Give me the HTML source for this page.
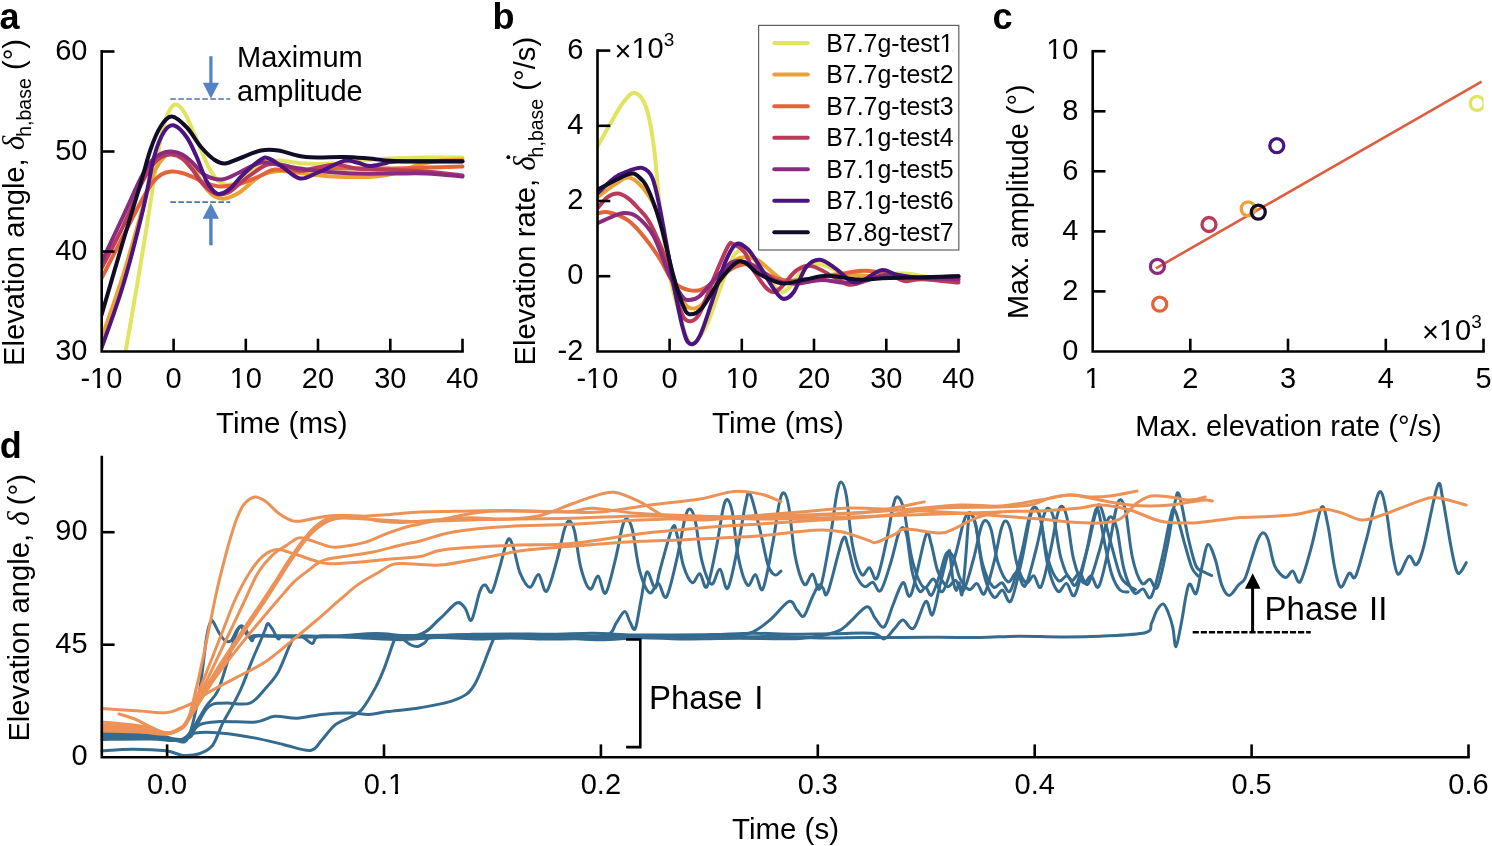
<!DOCTYPE html>
<html><head><meta charset="utf-8"><style>
html,body{margin:0;padding:0;background:#fff;}
svg{display:block;will-change:transform;}
text{font-family:"Liberation Sans",sans-serif;font-size:29px;fill:#000;}
text.t{font-size:29.5px;}
text.yl{font-size:29.2px;}
text.lg{font-size:24.9px;}
text.pl{font-weight:bold;font-size:36px;}
text.ph{font-size:33px;}
</style></head><body>
<svg width="1492" height="846" viewBox="0 0 1492 846">
<rect width="1492" height="846" fill="#fff"/>
<g>
<defs><clipPath id="ca"><rect x="101.7" y="40" width="363.8" height="311.5"/></clipPath>
<clipPath id="cb"><rect x="597.5" y="40" width="364.5" height="311.5"/></clipPath></defs>
<g clip-path="url(#ca)">
<path d="M124.9 355.5 C127.0 343.3 133.6 305.7 137.5 282.5 C141.4 259.3 144.7 239.2 148.3 216.5 C151.9 193.8 156.1 163.0 159.2 146.5 C162.2 130.0 163.7 124.5 166.4 117.5 C169.0 110.5 172.0 105.3 175.0 104.5 C178.1 103.7 180.8 106.7 184.4 112.5 C188.0 118.3 192.7 130.5 196.7 139.5 C200.7 148.5 204.5 159.5 208.3 166.5 C212.0 173.5 215.2 178.5 219.1 181.5 C223.0 184.5 226.9 185.5 231.4 184.5 C235.8 183.5 241.0 179.0 245.8 175.5 C250.6 172.0 254.8 166.0 260.3 163.5 C265.7 161.0 271.1 160.5 278.3 160.5 C285.5 160.5 294.6 163.0 303.6 163.5 C312.6 164.0 322.9 164.0 332.5 163.5 C342.1 163.0 351.7 161.3 361.4 160.5 C371.0 159.7 379.4 159.0 390.3 158.5 C401.1 158.0 414.3 157.7 426.4 157.5 C438.4 157.3 456.5 157.5 462.5 157.5" fill="none" stroke="#e1e45f" stroke-width="4.0" stroke-linecap="round" stroke-linejoin="round"/>
<path d="M101.4 338.5 C105.0 328.0 116.4 296.3 123.0 275.5 C129.7 254.7 136.3 229.8 141.1 213.5 C145.9 197.2 148.3 186.7 151.9 177.5 C155.5 168.3 159.0 162.7 162.8 158.5 C166.5 154.3 170.6 152.5 174.3 152.5 C178.1 152.5 181.7 155.3 185.2 158.5 C188.6 161.7 191.9 166.7 195.3 171.5 C198.6 176.3 202.1 183.3 205.4 187.5 C208.6 191.7 211.5 194.7 214.8 196.5 C218.0 198.3 220.8 199.2 224.9 198.5 C229.0 197.8 233.3 196.3 239.3 192.5 C245.3 188.7 254.2 179.1 261.0 175.5 C267.8 171.9 273.0 171.3 280.1 171.0 C287.2 170.7 294.9 172.6 303.6 173.5 C312.3 174.4 320.4 176.0 332.5 176.5 C344.5 177.0 365.0 177.2 375.8 176.5 C386.6 175.8 390.3 174.5 397.5 172.5 C404.7 170.5 411.9 166.5 419.1 164.5 C426.4 162.5 433.6 161.3 440.8 160.5 C448.0 159.7 458.9 159.7 462.5 159.5" fill="none" stroke="#eaa236" stroke-width="4.0" stroke-linecap="round" stroke-linejoin="round"/>
<path d="M101.4 278.5 C105.0 271.5 116.4 249.3 123.0 236.5 C129.7 223.7 136.3 210.3 141.1 201.5 C145.9 192.7 148.6 188.0 151.9 183.5 C155.3 179.0 158.1 176.5 161.3 174.5 C164.6 172.5 167.9 171.8 171.4 171.5 C174.9 171.2 178.5 172.0 182.3 173.0 C186.0 174.0 190.0 175.8 193.8 177.5 C197.7 179.2 201.0 181.5 205.4 183.0 C209.7 184.5 214.2 186.3 219.8 186.5 C225.5 186.7 232.5 185.8 239.3 184.0 C246.2 182.2 255.1 177.9 261.0 175.5 C266.9 173.1 268.2 170.2 274.7 169.5 C281.2 168.8 292.8 171.7 300.0 171.5 C307.2 171.3 309.0 169.0 318.0 168.5 C327.1 168.0 342.1 168.5 354.1 168.5 C366.2 168.5 378.2 168.7 390.3 168.5 C402.3 168.3 414.3 167.8 426.4 167.5 C438.4 167.2 456.5 166.7 462.5 166.5" fill="none" stroke="#e2643b" stroke-width="4.0" stroke-linecap="round" stroke-linejoin="round"/>
<path d="M101.4 268.5 C105.0 261.5 116.4 240.5 123.0 226.5 C129.7 212.5 136.3 194.7 141.1 184.5 C145.9 174.3 148.6 170.1 151.9 165.5 C155.3 160.9 158.1 158.8 161.3 157.0 C164.6 155.2 167.9 154.2 171.4 154.5 C174.9 154.7 178.8 156.0 182.3 158.5 C185.8 161.0 189.0 165.3 192.4 169.5 C195.7 173.7 198.6 179.5 202.5 183.5 C206.3 187.5 211.2 192.0 215.5 193.5 C219.8 195.0 223.4 195.0 228.5 192.5 C233.5 190.0 239.3 183.2 245.8 178.5 C252.3 173.8 260.9 166.7 267.5 164.5 C274.1 162.3 280.1 164.5 285.5 165.5 C291.0 166.5 294.6 170.2 300.0 170.5 C305.4 170.8 311.9 168.5 318.0 167.5 C324.2 166.5 330.4 164.3 336.8 164.5 C343.2 164.7 348.6 167.7 356.3 168.5 C364.0 169.3 371.4 169.0 383.0 169.5 C394.7 170.0 413.1 170.5 426.4 171.5 C439.6 172.5 456.5 174.8 462.5 175.5" fill="none" stroke="#ba3a5c" stroke-width="4.0" stroke-linecap="round" stroke-linejoin="round"/>
<path d="M101.4 262.5 C105.0 254.8 116.4 230.7 123.0 216.5 C129.7 202.3 136.3 186.8 141.1 177.5 C145.9 168.2 148.6 164.5 151.9 160.5 C155.3 156.5 158.1 155.0 161.3 153.5 C164.6 152.0 167.9 151.3 171.4 151.5 C174.9 151.7 178.8 152.7 182.3 154.5 C185.8 156.3 188.8 159.2 192.4 162.5 C196.0 165.8 199.1 171.7 203.9 174.5 C208.7 177.3 215.4 179.8 221.3 179.5 C227.2 179.2 232.7 175.3 239.3 172.5 C245.9 169.7 253.9 163.7 261.0 162.5 C268.1 161.3 275.4 164.5 281.9 165.5 C288.4 166.5 294.0 167.6 300.0 168.5 C306.0 169.4 308.7 170.2 318.0 171.0 C327.4 171.8 343.6 173.1 356.3 173.5 C369.1 173.9 382.9 173.5 394.6 173.5 C406.3 173.5 415.1 173.0 426.4 173.5 C437.7 174.0 456.5 176.0 462.5 176.5" fill="none" stroke="#8b2b7e" stroke-width="4.0" stroke-linecap="round" stroke-linejoin="round"/>
<path d="M101.4 348.5 C105.0 338.0 116.1 308.5 123.0 285.5 C130.0 262.5 137.6 232.0 142.8 210.5 C148.0 189.0 150.6 169.7 154.2 156.5 C157.7 143.3 160.9 136.7 164.2 131.5 C167.6 126.3 170.5 124.5 174.3 125.5 C178.1 126.5 183.2 132.2 186.9 137.5 C190.6 142.8 193.4 149.7 196.7 157.0 C200.0 164.3 203.5 175.4 206.8 181.5 C210.2 187.6 213.3 192.1 216.9 193.5 C220.5 194.9 224.3 193.0 228.5 190.0 C232.7 187.0 236.8 180.6 242.2 175.5 C247.6 170.4 256.5 162.3 261.0 159.5 C265.4 156.7 265.4 157.3 268.9 158.5 C272.4 159.7 276.8 163.2 281.9 166.5 C287.1 169.8 294.0 177.5 300.0 178.5 C306.0 179.5 310.7 175.4 318.0 172.5 C325.4 169.6 337.5 162.6 344.0 160.9 C350.5 159.2 352.8 161.6 357.0 162.5 C361.3 163.4 364.7 165.8 369.3 166.0 C373.9 166.2 379.8 164.3 384.5 163.5 C389.2 162.8 384.5 161.8 397.5 161.5 C410.5 161.2 451.6 161.5 462.5 161.5" fill="none" stroke="#4b1480" stroke-width="4.0" stroke-linecap="round" stroke-linejoin="round"/>
<path d="M101.4 315.5 C105.0 303.2 116.6 263.2 123.0 241.5 C129.5 219.8 135.4 200.8 140.0 185.5 C144.6 170.2 147.1 159.3 150.5 149.5 C153.9 139.7 157.0 132.0 160.6 126.5 C164.2 121.0 167.5 116.3 171.9 116.5 C176.2 116.7 182.0 122.4 186.9 127.5 C191.8 132.6 196.5 141.7 201.0 147.0 C205.6 152.3 210.1 156.7 214.0 159.5 C218.0 162.2 220.7 163.7 224.9 163.5 C229.1 163.3 233.3 160.7 239.3 158.5 C245.3 156.3 254.5 151.8 261.0 150.5 C267.5 149.2 270.9 149.4 278.3 150.5 C285.8 151.6 294.8 155.9 305.8 157.0 C316.7 158.1 333.4 156.7 344.0 157.0 C354.6 157.2 360.9 157.9 369.3 158.5 C377.7 159.2 379.1 160.4 394.6 160.9 C410.1 161.3 451.2 161.1 462.5 161.2" fill="none" stroke="#110d28" stroke-width="4.0" stroke-linecap="round" stroke-linejoin="round"/>
</g>
<path d="M170.3 99 H230.3" stroke="#4f74a8" stroke-width="1.6" stroke-dasharray="5.6 2.4"/>
<path d="M170.3 202.1 H230.3" stroke="#4f74a8" stroke-width="1.6" stroke-dasharray="5.6 2.4"/>
<path d="M210.9 56.2 V84" stroke="#5582c2" stroke-width="3.2"/>
<path d="M202.8 82.8 L219 82.8 L210.9 98.4 Z" fill="#5582c2"/>
<path d="M210.9 245.3 V217" stroke="#5582c2" stroke-width="3.4"/>
<path d="M202.6 218.7 L219 218.7 L210.8 203.2 Z" fill="#5582c2"/>
<text x="237" y="66.5">Maximum</text>
<text x="237" y="100.5">amplitude</text>
<path d="M101.7 51.2 V351.5 H462.5" fill="none" stroke="#000" stroke-width="2.6" stroke-linecap="square"/>
<path d="M101.7 51.5 H114.5" stroke="#000" stroke-width="2.6"/>
<text x="87.5" y="59.7" text-anchor="end">60</text>
<path d="M101.7 151.5 H114.5" stroke="#000" stroke-width="2.6"/>
<text x="87.5" y="159.7" text-anchor="end">50</text>
<path d="M101.7 251.5 H114.5" stroke="#000" stroke-width="2.6"/>
<text x="87.5" y="259.7" text-anchor="end">40</text>
<text x="87.5" y="359.7" text-anchor="end">30</text>
<text x="101.4" y="388.3" text-anchor="middle">-10</text>
<path d="M173.6 351.5 V338.7" stroke="#000" stroke-width="2.6"/>
<text x="173.6" y="388.3" text-anchor="middle">0</text>
<path d="M245.8 351.5 V338.7" stroke="#000" stroke-width="2.6"/>
<text x="245.8" y="388.3" text-anchor="middle">10</text>
<path d="M318.0 351.5 V338.7" stroke="#000" stroke-width="2.6"/>
<text x="318.0" y="388.3" text-anchor="middle">20</text>
<path d="M390.3 351.5 V338.7" stroke="#000" stroke-width="2.6"/>
<text x="390.3" y="388.3" text-anchor="middle">30</text>
<path d="M462.5 351.5 V338.7" stroke="#000" stroke-width="2.6"/>
<text x="462.5" y="388.3" text-anchor="middle">40</text>
<text x="281.8" y="432.9" text-anchor="middle" class="t">Time (ms)</text>
<text x="-0.5" y="29.4" class="pl">a</text>
<text transform="translate(23.6 366.0) rotate(-90)" class="yl">Elevation angle, <tspan font-family="Liberation Serif" font-style="italic" font-size="31">δ</tspan><tspan font-size="19.5" dx="-1" dy="7.8">h,base</tspan><tspan dy="-7.8" dx="0"> (°)</tspan></text>
</g>
<g clip-path="url(#cb)">
<path d="M597.4 146.5 C597.8 145.7 597.6 146.2 600.0 142.0 C602.4 137.8 608.0 127.7 611.8 121.3 C615.6 114.8 618.9 108.0 622.7 103.2 C626.4 98.5 630.4 92.2 634.2 92.7 C638.1 93.2 642.5 97.5 645.8 106.2 C649.0 115.0 651.3 128.0 653.7 145.4 C656.1 162.7 657.6 188.8 660.2 210.4 C662.9 232.0 666.4 257.8 669.6 275.1 C672.8 292.4 676.9 304.0 679.7 314.2 C682.5 324.4 684.0 331.3 686.2 336.4 C688.4 341.4 690.4 344.6 692.7 344.6 C695.0 344.6 697.3 340.3 699.9 336.4 C702.6 332.4 704.4 331.2 708.6 320.9 C712.8 310.7 720.6 286.4 725.2 275.1 C729.8 263.7 732.3 256.5 736.0 252.9 C739.8 249.3 742.7 249.8 747.6 253.3 C752.5 256.7 759.8 267.1 765.7 273.6 C771.6 280.0 776.5 292.8 783.0 292.0 C789.5 291.2 798.5 273.3 804.7 268.7 C810.8 264.0 814.6 263.9 819.8 264.2 C825.0 264.4 829.4 267.9 835.7 270.2 C842.0 272.5 850.2 277.4 857.4 278.1 C864.6 278.8 871.1 275.1 879.0 274.3 C887.0 273.6 896.6 273.1 905.0 273.6 C913.5 274.0 920.7 276.5 929.6 277.0 C938.5 277.4 953.7 276.3 958.5 276.2" fill="none" stroke="#e1e45f" stroke-width="4.0" stroke-linecap="round" stroke-linejoin="round"/>
<path d="M597.4 197.2 C600.4 195.0 610.0 187.3 615.4 184.1 C620.9 180.8 624.6 176.1 629.9 177.7 C635.2 179.3 642.2 186.5 647.2 193.5 C652.3 200.5 655.9 206.0 660.2 219.8 C664.5 233.6 669.5 262.9 673.2 276.2 C676.9 289.5 679.9 294.2 682.6 299.5 C685.3 304.8 686.1 307.0 689.4 307.8 C692.6 308.6 696.4 309.7 702.1 304.4 C707.8 299.1 718.0 283.7 723.8 276.2 C729.5 268.7 732.8 262.4 736.8 259.3 C740.7 256.1 744.0 257.2 747.6 257.4 C751.2 257.6 752.8 256.7 758.4 260.4 C764.1 264.1 775.2 275.9 781.5 279.6 C787.9 283.3 791.3 282.5 796.7 282.6 C802.1 282.7 807.5 281.3 814.0 280.0 C820.5 278.6 826.1 274.9 835.7 274.3 C845.3 273.7 859.8 275.6 871.8 276.2 C883.9 276.8 893.5 277.5 907.9 278.1 C922.4 278.7 950.1 279.6 958.5 280.0" fill="none" stroke="#eaa236" stroke-width="4.0" stroke-linecap="round" stroke-linejoin="round"/>
<path d="M597.4 213.4 C599.2 213.2 603.2 211.2 608.2 212.3 C613.3 213.4 621.8 216.2 627.7 220.2 C633.6 224.2 638.2 229.8 643.6 236.3 C649.0 242.9 655.3 251.7 660.2 259.3 C665.1 266.9 668.4 276.7 673.2 281.8 C678.0 287.0 684.3 288.9 689.1 290.1 C693.9 291.4 697.2 291.3 702.1 289.4 C707.0 287.4 713.3 282.2 718.7 278.5 C724.1 274.8 729.3 269.6 734.6 267.2 C739.9 264.8 745.3 263.1 750.5 264.2 C755.7 265.2 759.3 270.8 765.7 273.6 C772.0 276.3 778.4 280.3 788.8 280.7 C799.1 281.2 816.1 277.8 827.8 276.2 C839.4 274.6 850.9 271.7 858.8 270.9 C866.8 270.2 868.4 270.5 875.4 271.7 C882.4 272.9 890.5 277.0 900.7 278.1 C910.9 279.1 927.2 278.1 936.8 278.1 C946.4 278.1 954.9 278.1 958.5 278.1" fill="none" stroke="#e2643b" stroke-width="4.0" stroke-linecap="round" stroke-linejoin="round"/>
<path d="M597.4 208.5 C599.1 206.6 604.1 199.7 607.5 197.2 C610.9 194.7 614.2 193.4 617.6 193.5 C621.0 193.6 624.3 195.6 627.7 198.0 C631.1 200.4 634.1 203.6 637.8 207.8 C641.6 212.0 645.3 214.1 650.1 223.2 C654.9 232.3 661.8 248.2 666.7 262.3 C671.6 276.4 676.2 298.0 679.7 307.8 C683.2 317.6 684.4 319.9 687.7 320.9 C690.9 322.0 694.6 321.8 699.2 314.2 C703.8 306.5 710.3 286.4 715.1 275.1 C719.9 263.7 725.1 251.3 728.1 246.1 C731.1 241.0 730.4 243.2 733.2 244.2 C735.9 245.3 741.1 247.8 744.7 252.5 C748.3 257.2 750.0 265.9 754.8 272.4 C759.6 279.0 766.6 292.4 773.6 292.0 C780.6 291.6 790.2 274.4 796.7 270.2 C803.2 265.9 806.1 265.1 812.6 266.4 C819.1 267.7 829.3 275.0 835.7 278.1 C842.1 281.2 844.5 284.8 850.9 284.8 C857.3 284.8 867.6 279.8 874.0 278.1 C880.4 276.3 884.1 273.8 889.1 274.3 C894.2 274.8 898.8 280.3 904.3 281.1 C909.9 281.9 913.3 279.0 922.4 279.2 C931.4 279.5 952.5 282.0 958.5 282.6" fill="none" stroke="#ba3a5c" stroke-width="4.0" stroke-linecap="round" stroke-linejoin="round"/>
<path d="M597.4 223.2 C599.8 222.1 607.4 218.5 611.8 216.8 C616.3 215.1 619.9 213.0 624.1 213.0 C628.3 213.0 632.2 212.9 637.1 216.8 C642.0 220.7 648.3 226.6 653.7 236.3 C659.1 246.1 665.0 265.7 669.6 275.4 C674.2 285.2 678.1 290.9 681.2 295.0 C684.2 299.1 684.6 299.6 687.7 299.9 C690.7 300.1 694.6 300.1 699.2 296.5 C703.8 292.9 709.7 284.2 715.1 278.5 C720.5 272.8 726.8 265.0 731.7 262.3 C736.6 259.6 740.3 261.2 744.7 262.3 C749.2 263.4 753.5 265.7 758.4 268.7 C763.4 271.6 768.1 277.5 774.3 280.0 C780.6 282.5 788.2 283.7 796.0 283.7 C803.8 283.7 813.4 280.1 821.3 280.0 C829.1 279.8 835.7 282.6 842.9 282.6 C850.1 282.6 857.4 281.2 864.6 280.0 C871.8 278.8 876.6 275.8 886.3 275.4 C895.9 275.1 910.3 277.5 922.4 278.1 C934.4 278.7 952.5 279.0 958.5 279.2" fill="none" stroke="#8b2b7e" stroke-width="4.0" stroke-linecap="round" stroke-linejoin="round"/>
<path d="M597.4 193.5 C600.3 190.8 609.7 181.4 614.7 177.7 C619.8 174.0 623.1 172.9 627.7 171.3 C632.3 169.7 638.1 166.8 642.2 167.9 C646.2 169.0 649.3 170.7 652.3 177.7 C655.3 184.7 656.7 192.7 660.2 210.0 C663.7 227.4 669.5 262.3 673.2 281.8 C676.9 301.4 679.9 317.1 682.6 327.3 C685.3 337.6 686.6 341.9 689.4 343.5 C692.2 345.1 695.4 344.2 699.2 337.1 C703.0 330.0 707.9 313.5 712.2 301.0 C716.5 288.5 721.2 271.8 725.2 262.3 C729.2 252.8 732.3 246.4 736.0 244.2 C739.8 242.0 743.9 245.8 747.6 249.1 C751.3 252.4 754.1 257.6 758.4 264.2 C762.8 270.7 769.5 282.8 773.6 288.6 C777.7 294.4 779.6 298.2 783.0 298.8 C786.4 299.3 790.0 297.3 793.8 292.0 C797.7 286.7 801.8 272.6 806.1 267.2 C810.4 261.8 814.9 259.4 819.8 259.7 C824.8 259.9 830.5 265.1 835.7 268.7 C840.9 272.3 846.5 279.0 850.9 281.1 C855.2 283.2 856.6 282.9 861.7 281.1 C866.8 279.3 875.3 271.2 881.2 270.2 C887.1 269.1 890.6 273.4 897.1 274.7 C903.6 275.9 910.0 277.5 920.2 277.7 C930.4 278.0 952.1 276.5 958.5 276.2" fill="none" stroke="#4b1480" stroke-width="4.0" stroke-linecap="round" stroke-linejoin="round"/>
<path d="M597.4 189.7 C600.4 188.2 610.0 183.0 615.4 180.3 C620.9 177.7 626.3 174.7 629.9 173.9 C633.5 173.1 634.2 173.2 637.1 175.4 C640.0 177.7 643.4 179.5 647.2 187.5 C651.1 195.4 655.9 208.6 660.2 223.2 C664.5 237.8 669.5 261.5 673.2 275.1 C676.9 288.6 679.9 297.9 682.6 304.4 C685.3 310.9 686.1 313.6 689.4 314.2 C692.6 314.7 697.2 313.2 702.1 307.8 C707.0 302.4 713.3 289.2 718.7 281.8 C724.1 274.5 730.3 267.1 734.6 263.8 C738.9 260.5 740.7 260.7 744.7 262.3 C748.7 263.9 752.3 270.1 758.4 273.6 C764.6 277.1 773.8 282.3 781.5 283.3 C789.2 284.3 796.9 280.8 804.7 279.6 C812.4 278.3 818.7 275.8 827.8 275.8 C836.8 275.8 848.5 279.2 858.8 279.6 C869.2 280.0 873.3 278.6 889.9 278.1 C906.5 277.5 947.0 276.5 958.5 276.2" fill="none" stroke="#110d28" stroke-width="4.0" stroke-linecap="round" stroke-linejoin="round"/>
</g>
<path d="M597.5 50.6 V351.5 H958.5" fill="none" stroke="#000" stroke-width="2.6" stroke-linecap="square"/>
<path d="M597.5 50.6 H610.3" stroke="#000" stroke-width="2.6"/>
<text x="583.3" y="58.8" text-anchor="end">6</text>
<path d="M597.5 125.8 H610.3" stroke="#000" stroke-width="2.6"/>
<text x="583.3" y="134.0" text-anchor="end">4</text>
<path d="M597.5 201.0 H610.3" stroke="#000" stroke-width="2.6"/>
<text x="583.3" y="209.2" text-anchor="end">2</text>
<path d="M597.5 276.2 H610.3" stroke="#000" stroke-width="2.6"/>
<text x="583.3" y="284.4" text-anchor="end">0</text>
<text x="583.3" y="359.7" text-anchor="end">-2</text>
<text x="597.4" y="388.3" text-anchor="middle">-10</text>
<path d="M669.6 351.5 V338.7" stroke="#000" stroke-width="2.6"/>
<text x="669.6" y="388.3" text-anchor="middle">0</text>
<path d="M741.8 351.5 V338.7" stroke="#000" stroke-width="2.6"/>
<text x="741.8" y="388.3" text-anchor="middle">10</text>
<path d="M814.0 351.5 V338.7" stroke="#000" stroke-width="2.6"/>
<text x="814.0" y="388.3" text-anchor="middle">20</text>
<path d="M886.3 351.5 V338.7" stroke="#000" stroke-width="2.6"/>
<text x="886.3" y="388.3" text-anchor="middle">30</text>
<path d="M958.5 351.5 V338.7" stroke="#000" stroke-width="2.6"/>
<text x="958.5" y="388.3" text-anchor="middle">40</text>
<text x="777.9" y="432.9" text-anchor="middle" class="t">Time (ms)</text>
<text x="492.4" y="28.8" class="pl">b</text>
<text x="614.5" y="58"><tspan dy="3.2">×</tspan><tspan dy="-3.2">10</tspan><tspan font-size="19" dy="-12">3</tspan></text>
<text transform="translate(534.8 365.5) rotate(-90)" class="yl">Elevation rate, <tspan font-family="Liberation Serif" font-style="italic" font-size="31">δ</tspan><tspan font-size="19.5" dx="-1" dy="7.8">h,base</tspan><tspan dy="-7.8" dx="0"> (°/s)</tspan></text>
<circle cx="508.3" cy="157.2" r="1.9" fill="#000"/>
<rect x="758.6" y="25.4" width="200.2" height="224.6" fill="#fff" stroke="#606060" stroke-width="1.2"/>
<path d="M774.3 43.1 H807.8" stroke="#e1e45f" stroke-width="4.0" stroke-linecap="round"/>
<text x="826.2" y="51.5" class="lg">B7.7g-test1</text>
<path d="M774.3 74.6 H807.8" stroke="#eaa236" stroke-width="4.0" stroke-linecap="round"/>
<text x="826.2" y="83.0" class="lg">B7.7g-test2</text>
<path d="M774.3 106.2 H807.8" stroke="#e2643b" stroke-width="4.0" stroke-linecap="round"/>
<text x="826.2" y="114.6" class="lg">B7.7g-test3</text>
<path d="M774.3 137.7 H807.8" stroke="#ba3a5c" stroke-width="4.0" stroke-linecap="round"/>
<text x="826.2" y="146.1" class="lg">B7.1g-test4</text>
<path d="M774.3 169.2 H807.8" stroke="#8b2b7e" stroke-width="4.0" stroke-linecap="round"/>
<text x="826.2" y="177.6" class="lg">B7.1g-test5</text>
<path d="M774.3 200.8 H807.8" stroke="#4b1480" stroke-width="4.0" stroke-linecap="round"/>
<text x="826.2" y="209.2" class="lg">B7.1g-test6</text>
<path d="M774.3 232.3 H807.8" stroke="#110d28" stroke-width="4.0" stroke-linecap="round"/>
<text x="826.2" y="240.7" class="lg">B7.8g-test7</text>
<path d="M1092.7 51.2 V351.5 H1483.5" fill="none" stroke="#000" stroke-width="2.6" stroke-linecap="square"/>
<path d="M1092.7 51.2 H1105.5" stroke="#000" stroke-width="2.6"/>
<text x="1078.5" y="59.4" text-anchor="end">10</text>
<path d="M1092.7 111.3 H1105.5" stroke="#000" stroke-width="2.6"/>
<text x="1078.5" y="119.5" text-anchor="end">8</text>
<path d="M1092.7 171.3 H1105.5" stroke="#000" stroke-width="2.6"/>
<text x="1078.5" y="179.5" text-anchor="end">6</text>
<path d="M1092.7 231.4 H1105.5" stroke="#000" stroke-width="2.6"/>
<text x="1078.5" y="239.6" text-anchor="end">4</text>
<path d="M1092.7 291.4 H1105.5" stroke="#000" stroke-width="2.6"/>
<text x="1078.5" y="299.6" text-anchor="end">2</text>
<text x="1078.5" y="359.7" text-anchor="end">0</text>
<text x="1092.6" y="388.3" text-anchor="middle">1</text>
<path d="M1190.3 351.5 V338.7" stroke="#000" stroke-width="2.6"/>
<text x="1190.3" y="388.3" text-anchor="middle">2</text>
<path d="M1288.0 351.5 V338.7" stroke="#000" stroke-width="2.6"/>
<text x="1288.0" y="388.3" text-anchor="middle">3</text>
<path d="M1385.8 351.5 V338.7" stroke="#000" stroke-width="2.6"/>
<text x="1385.8" y="388.3" text-anchor="middle">4</text>
<path d="M1483.5 351.5 V338.7" stroke="#000" stroke-width="2.6"/>
<text x="1483.5" y="388.3" text-anchor="middle">5</text>
<defs><clipPath id="cc"><rect x="1094" y="40" width="389.6" height="311"/></clipPath></defs><g clip-path="url(#cc)">
<path d="M1156.0 268.3 L1481.6 81.6" stroke="#de5c40" stroke-width="2.6"/>
<circle cx="1477.2" cy="103.4" r="7.0" fill="none" stroke="#e1e45f" stroke-width="3.3"/>
<circle cx="1276.8" cy="145.7" r="7.0" fill="none" stroke="#4b1480" stroke-width="3.3"/>
<circle cx="1248.2" cy="208.8" r="7.0" fill="none" stroke="#eaa236" stroke-width="3.3"/>
<circle cx="1258.3" cy="212.1" r="7.0" fill="none" stroke="#110d28" stroke-width="3.3"/>
<circle cx="1209.0" cy="224.5" r="7.0" fill="none" stroke="#ba3a5c" stroke-width="3.3"/>
<circle cx="1157.4" cy="266.4" r="7.0" fill="none" stroke="#8b2b7e" stroke-width="3.3"/>
<circle cx="1159.7" cy="304.2" r="7.0" fill="none" stroke="#e2643b" stroke-width="3.3"/>
</g>
<text x="1422" y="339.6"><tspan dy="2.8">×</tspan><tspan dy="-2.8">10</tspan><tspan font-size="19" dy="-11.5">3</tspan></text>
<text x="1288.5" y="436" text-anchor="middle" class="t" style="font-size:29px">Max. elevation rate (°/s)</text>
<text transform="translate(1027.9 319.0) rotate(-90)" class="yl" style="font-size:28.9px">Max. amplitude (°)</text>
<text x="992.6" y="28.9" class="pl">c</text>
<g>
<path d="M102.0 739.5 C110.0 739.4 137.8 738.8 150.0 739.0 C162.2 739.2 168.7 740.7 175.0 740.5 C181.3 740.3 184.0 745.6 188.0 738.0 C192.0 730.4 195.8 711.3 198.9 694.6 C202.0 677.9 204.6 649.9 206.5 637.8 C208.4 625.7 209.4 624.7 210.5 622.0 C211.6 619.3 211.6 619.7 213.1 621.7 C214.6 623.7 217.6 630.8 219.7 634.0 C221.8 637.2 223.5 639.6 225.4 640.7 C227.3 641.8 229.2 642.4 231.1 640.7 C233.0 639.0 235.1 632.7 236.7 630.3 C238.3 627.9 239.1 626.2 240.5 626.5 C241.9 626.8 243.6 630.3 245.2 632.2 C246.8 634.1 248.2 637.2 250.0 637.8 C251.8 638.3 248.3 635.8 256.0 635.5 C263.7 635.2 282.7 635.9 296.0 636.0 C309.3 636.1 322.7 636.4 336.0 636.0 C349.3 635.6 362.3 633.8 376.0 633.6 C389.7 633.5 407.7 637.3 418.3 634.9 C428.9 632.5 433.2 624.3 439.6 619.0 C446.0 613.7 452.4 604.8 456.6 603.0 C460.8 601.2 462.5 605.2 465.0 608.0 C467.5 610.8 469.0 622.8 471.5 620.0 C474.0 617.2 477.7 596.8 480.0 591.0 C482.3 585.2 483.4 584.8 485.3 585.0 C487.2 585.2 489.4 594.5 491.7 592.0 C494.0 589.5 496.3 578.7 499.0 570.0 C501.7 561.3 505.3 543.8 507.7 540.0 C510.1 536.2 511.2 541.8 513.3 547.2 C515.3 552.7 517.3 566.2 520.0 572.9 C522.8 579.5 526.8 587.1 529.9 587.3 C533.0 587.6 535.8 573.9 538.5 574.5 C541.3 575.2 543.5 593.8 546.6 591.3 C549.7 588.9 554.1 570.1 557.1 559.7 C560.0 549.3 562.4 535.5 564.5 529.1 C566.5 522.6 567.7 520.6 569.4 521.0 C571.1 521.4 572.7 523.5 574.6 531.4 C576.5 539.2 578.3 558.4 580.9 568.0 C583.5 577.7 587.2 587.9 590.1 589.2 C592.9 590.5 595.5 575.3 598.1 576.0 C600.7 576.6 602.7 595.9 605.6 593.2 C608.4 590.5 612.5 570.7 615.3 559.8 C618.1 548.9 620.3 534.3 622.2 527.5 C624.1 520.7 625.1 518.6 626.8 519.0 C628.5 519.4 630.4 521.7 632.5 530.2 C634.6 538.7 636.6 559.4 639.4 569.8 C642.2 580.3 646.3 590.5 649.5 592.8 C652.6 595.0 655.5 582.6 658.3 583.3 C661.1 584.0 663.3 601.1 666.5 596.8 C669.6 592.4 674.2 570.2 677.2 557.3 C680.2 544.3 682.7 527.2 684.8 519.2 C686.9 511.1 688.1 508.8 689.8 509.0 C691.5 509.2 693.2 511.8 695.2 520.4 C697.2 529.1 699.1 550.2 701.9 560.8 C704.6 571.4 708.5 582.8 711.5 584.2 C714.5 585.6 717.2 568.7 720.0 569.3 C722.7 570.0 724.8 592.1 727.8 588.2 C730.8 584.3 735.1 559.7 738.0 545.8 C741.0 531.9 743.3 513.6 745.3 504.9 C747.3 496.3 747.6 489.8 750.1 494.0 C752.6 498.2 757.0 518.2 760.0 530.0 C763.0 541.8 765.5 557.5 768.0 565.0 C770.5 572.5 772.8 574.0 775.0 575.0 C777.2 576.0 780.0 571.7 781.0 571.0" fill="none" stroke="#356b8f" stroke-width="3.0" stroke-linecap="round" stroke-linejoin="round"/>
<path d="M102.0 737.5 C110.0 737.5 137.8 737.0 150.0 737.5 C162.2 738.0 169.0 740.6 175.0 740.5 C181.0 740.4 182.7 739.6 186.0 737.0 C189.3 734.4 191.6 730.2 195.0 725.0 C198.4 719.8 202.7 711.6 206.5 705.9 C210.3 700.2 214.3 698.0 217.8 690.8 C221.3 683.5 224.5 671.2 227.3 662.4 C230.1 653.6 232.6 643.9 234.8 637.8 C237.0 631.7 238.6 627.3 240.5 626.0 C242.4 624.7 244.1 627.5 246.0 630.0 C247.9 632.5 249.9 639.7 251.9 640.7 C253.9 641.7 250.3 636.6 258.0 636.0 C265.7 635.4 284.7 637.0 298.0 637.1 C311.3 637.2 324.7 636.7 338.0 636.8 C351.3 636.8 364.7 637.5 378.0 637.5 C391.3 637.6 404.7 637.0 418.0 636.9 C431.3 636.8 444.7 636.6 458.0 636.7 C471.3 636.8 484.7 637.2 498.0 637.5 C511.3 637.9 524.7 638.7 538.0 638.9 C551.3 639.1 566.4 639.2 578.0 638.6 C589.6 637.9 601.3 637.5 607.7 634.9 C614.1 632.3 613.4 627.1 616.2 623.2 C619.0 619.3 622.4 611.7 624.7 611.5 C627.0 611.3 628.2 619.2 630.0 622.0 C631.8 624.8 633.5 632.2 635.3 628.5 C637.1 624.8 639.1 609.4 641.0 600.0 C642.9 590.6 644.6 574.0 646.9 572.0 C649.2 570.0 652.8 588.3 655.0 588.0 C657.2 587.7 657.1 580.1 660.0 570.0 C662.9 559.9 669.5 533.3 672.4 527.6 C675.3 521.9 675.5 529.7 677.3 536.0 C679.2 542.4 680.9 558.0 683.4 565.8 C685.9 573.5 689.4 581.4 692.2 582.7 C694.9 584.1 697.4 573.1 699.8 573.8 C702.3 574.5 704.2 591.1 707.0 586.7 C709.7 582.3 713.7 560.3 716.3 547.5 C719.0 534.6 721.1 517.6 722.9 509.6 C724.7 501.6 725.7 499.0 727.3 499.5 C728.9 500.0 730.5 502.7 732.4 512.5 C734.2 522.3 736.0 546.3 738.6 558.4 C741.1 570.5 744.8 582.4 747.6 585.1 C750.4 587.8 752.9 573.9 755.5 574.6 C758.0 575.3 760.0 593.9 762.8 589.1 C765.6 584.3 769.6 560.0 772.3 545.8 C775.1 531.6 777.2 512.8 779.1 504.0 C781.0 495.2 782.0 492.4 783.6 492.8 C785.2 493.2 786.9 496.2 788.8 506.7 C790.7 517.2 792.5 542.8 795.1 555.7 C797.7 568.7 801.5 581.3 804.4 584.4 C807.3 587.4 809.9 573.3 812.5 574.0 C815.0 574.6 817.1 593.9 820.0 588.4 C822.8 582.8 827.0 556.2 829.8 540.5 C832.5 524.9 834.8 504.2 836.7 494.5 C838.6 484.8 839.7 481.8 841.3 482.1 C842.9 482.4 844.5 485.5 846.4 496.1 C848.2 506.7 850.0 532.5 852.6 545.5 C855.1 558.6 858.8 570.7 861.6 574.4 C864.4 578.1 866.9 567.0 869.5 567.7 C872.0 568.3 874.0 582.7 876.8 578.4 C879.6 574.1 883.6 553.7 886.3 541.7 C889.1 529.7 891.2 513.7 893.1 506.2 C895.0 498.8 895.8 496.1 897.6 496.8 C899.4 497.5 901.7 500.2 904.1 510.5 C906.5 520.9 908.7 546.2 912.0 559.0 C915.2 571.7 919.9 583.9 923.5 587.2 C927.1 590.6 930.3 578.3 933.5 579.0 C936.8 579.7 939.3 595.1 942.9 591.2 C946.5 587.3 951.6 567.4 955.1 555.8 C958.6 544.2 961.4 528.8 963.7 521.6 C966.1 514.4 967.6 512.1 969.5 512.5 C971.4 512.9 973.2 515.3 975.4 523.8 C977.5 532.3 979.6 553.1 982.5 563.6 C985.4 574.1 989.6 583.4 992.9 586.6 C996.1 589.8 999.1 582.0 1002.0 582.7 C1004.9 583.4 1007.2 595.6 1010.5 590.6 C1013.7 585.7 1018.4 565.4 1021.5 553.1 C1024.6 540.8 1027.1 524.5 1029.3 516.8 C1031.5 509.2 1032.6 506.9 1034.5 507.2 C1036.4 507.5 1038.2 509.9 1040.4 518.4 C1042.6 526.8 1044.7 547.4 1047.7 557.8 C1050.6 568.1 1054.9 577.6 1058.2 580.6 C1061.5 583.5 1064.5 574.9 1067.5 575.6 C1070.4 576.3 1072.7 588.9 1076.0 584.6 C1079.3 580.2 1084.0 560.9 1087.2 549.3 C1090.4 537.7 1092.9 522.4 1095.1 515.2 C1097.3 508.1 1097.9 502.1 1100.4 506.2 C1102.9 510.3 1106.7 528.5 1110.0 540.0 C1113.3 551.5 1117.0 567.5 1120.0 575.0 C1123.0 582.5 1125.4 582.5 1128.0 585.0 C1130.6 587.5 1134.2 588.9 1135.4 589.7" fill="none" stroke="#356b8f" stroke-width="3.0" stroke-linecap="round" stroke-linejoin="round"/>
<path d="M102.0 750.8 C107.2 750.5 122.3 749.2 133.0 749.2 C143.7 749.2 157.9 749.8 166.2 750.8 C174.5 751.8 177.3 754.9 182.8 755.4 C188.3 755.9 194.5 755.2 199.3 753.7 C204.1 752.2 208.5 750.0 211.8 746.3 C215.1 742.6 217.3 735.3 219.2 731.4 C221.0 727.5 220.7 727.1 222.9 722.9 C225.1 718.6 229.2 711.9 232.4 705.9 C235.6 699.9 238.7 694.2 241.8 687.0 C245.0 679.8 248.4 669.6 251.3 662.4 C254.2 655.1 257.1 648.9 259.4 643.5 C261.7 638.1 263.6 633.3 265.0 630.0 C266.4 626.7 266.6 623.6 267.9 623.6 C269.2 623.6 271.3 627.5 273.0 630.0 C274.7 632.5 276.3 637.8 278.3 638.8 C280.3 639.8 277.2 636.4 285.0 636.0 C292.8 635.6 311.7 636.5 325.0 636.6 C338.3 636.7 351.7 636.8 365.0 636.6 C378.3 636.5 391.7 636.0 405.0 635.8 C418.3 635.5 431.7 635.4 445.0 635.2 C458.3 635.0 471.7 634.3 485.0 634.5 C498.3 634.7 511.7 636.0 525.0 636.2 C538.3 636.4 551.7 635.7 565.0 635.7 C578.3 635.8 591.7 636.5 605.0 636.5 C618.3 636.4 631.7 635.5 645.0 635.5 C658.3 635.5 671.7 636.5 685.0 636.5 C698.3 636.5 714.2 635.8 725.0 635.2 C735.8 634.6 742.5 635.5 750.0 633.0 C757.5 630.5 763.5 625.3 770.0 620.0 C776.5 614.7 784.5 603.1 789.0 601.4 C793.5 599.7 794.5 607.5 797.0 610.0 C799.5 612.5 801.3 618.1 803.8 616.1 C806.3 614.1 809.5 603.1 812.0 598.0 C814.5 592.9 816.7 587.0 818.5 585.3 C820.3 583.6 821.4 586.9 823.0 588.0 C824.6 589.1 824.6 600.0 827.9 592.0 C831.2 584.0 839.2 547.2 842.6 539.7 C846.0 532.2 846.0 541.5 848.0 546.9 C850.0 552.3 852.0 565.6 854.7 572.2 C857.4 578.8 861.3 584.9 864.3 586.5 C867.4 588.2 870.1 581.7 872.8 582.3 C875.5 583.0 877.6 593.9 880.7 590.5 C883.7 587.2 888.0 571.5 890.9 562.2 C893.8 552.9 896.2 540.6 898.2 534.8 C900.2 529.0 901.5 527.2 903.0 527.6 C904.5 528.0 905.6 530.0 907.1 537.3 C908.6 544.6 910.1 562.5 912.1 571.5 C914.1 580.4 917.1 588.4 919.4 591.1 C921.7 593.8 923.7 586.9 925.8 587.5 C927.8 588.2 929.4 597.1 931.7 595.1 C933.9 593.1 937.2 582.1 939.4 575.7 C941.6 569.3 943.3 560.8 944.9 556.8 C946.4 552.9 947.0 551.8 948.5 552.0 C950.0 552.2 951.7 553.4 953.6 557.8 C955.6 562.1 957.4 572.9 959.9 578.2 C962.5 583.5 966.2 588.6 969.1 589.5 C972.0 590.4 974.5 582.9 977.1 583.6 C979.7 584.2 981.7 597.3 984.5 593.5 C987.4 589.7 991.5 571.6 994.3 560.9 C997.0 550.2 999.2 536.1 1001.1 529.4 C1003.0 522.8 1004.1 520.9 1005.7 521.1 C1007.3 521.3 1008.9 523.4 1010.7 530.5 C1012.6 537.6 1014.4 555.0 1016.9 563.7 C1019.4 572.5 1023.1 580.8 1025.9 582.8 C1028.7 584.8 1031.2 575.1 1033.7 575.8 C1036.2 576.4 1038.2 591.0 1041.0 586.8 C1043.8 582.6 1047.8 562.4 1050.5 550.5 C1053.2 538.7 1055.4 522.9 1057.2 515.5 C1059.1 508.1 1060.1 505.8 1061.7 506.2 C1063.3 506.6 1065.0 509.0 1067.0 517.8 C1069.0 526.6 1070.8 548.0 1073.5 558.8 C1076.1 569.6 1080.0 579.6 1082.9 582.5 C1085.8 585.4 1088.5 575.4 1091.2 576.1 C1093.8 576.7 1095.9 591.3 1098.8 586.5 C1101.8 581.8 1106.0 560.3 1108.8 547.5 C1111.7 534.7 1113.9 517.8 1115.9 509.8 C1117.9 501.9 1118.9 499.4 1120.6 499.8 C1122.3 500.2 1123.9 502.9 1125.9 512.4 C1127.8 522.0 1129.7 545.3 1132.3 557.0 C1134.9 568.8 1138.7 579.3 1141.7 583.0 C1144.6 586.7 1147.2 578.6 1149.8 579.3 C1152.5 579.9 1154.5 592.6 1157.5 587.0 C1160.4 581.3 1164.6 559.0 1167.4 545.4 C1170.2 531.7 1172.5 513.7 1174.4 505.2 C1176.4 496.8 1176.8 489.2 1179.1 494.5 C1181.4 499.8 1185.2 525.1 1188.0 537.0 C1190.8 548.9 1193.3 560.2 1196.0 566.0 C1198.7 571.8 1201.4 570.4 1204.0 572.0 C1206.6 573.6 1210.3 574.9 1211.6 575.5" fill="none" stroke="#356b8f" stroke-width="3.0" stroke-linecap="round" stroke-linejoin="round"/>
<path d="M102.0 735.5 C110.0 735.6 137.8 735.2 150.0 736.0 C162.2 736.8 168.3 740.7 175.0 740.5 C181.7 740.3 184.8 740.1 190.0 735.0 C195.2 729.9 202.0 714.9 205.9 709.7 C209.8 704.5 211.2 705.1 213.5 704.0 C215.8 702.9 217.7 703.4 220.0 703.2 C222.3 703.1 222.3 703.1 227.3 703.1 C232.3 703.1 243.7 705.5 250.0 703.1 C256.3 700.7 260.4 694.1 265.1 688.9 C269.8 683.7 274.2 679.1 278.3 671.9 C282.4 664.6 286.9 651.4 289.7 645.4 C292.5 639.4 293.2 637.4 295.4 636.0 C297.6 634.6 300.2 635.8 303.0 637.0 C305.8 638.2 309.6 643.7 312.4 643.5 C315.2 643.3 312.1 637.0 320.0 636.0 C327.9 635.0 346.7 637.2 360.0 637.8 C373.3 638.4 386.7 639.7 400.0 639.7 C413.3 639.7 426.7 637.6 440.0 637.5 C453.3 637.4 466.7 639.1 480.0 639.0 C493.3 639.0 506.7 637.6 520.0 637.4 C533.3 637.2 546.7 637.4 560.0 637.8 C573.3 638.2 586.7 639.8 600.0 639.8 C613.3 639.8 626.7 637.9 640.0 637.7 C653.3 637.6 666.7 638.8 680.0 638.9 C693.3 639.0 706.7 638.5 720.0 638.4 C733.3 638.3 746.7 638.4 760.0 638.4 C773.3 638.4 787.4 639.5 800.0 638.5 C812.6 637.4 827.6 634.7 835.9 632.0 C844.2 629.3 844.9 626.2 850.0 622.0 C855.1 617.8 862.6 607.4 866.8 606.7 C871.0 606.0 872.1 614.6 875.0 618.0 C877.9 621.4 881.2 629.0 884.2 626.8 C887.2 624.6 889.9 612.4 893.0 605.0 C896.1 597.6 900.0 584.3 903.0 582.6 C906.0 580.9 907.2 602.5 911.0 594.7 C914.8 586.9 922.4 544.2 925.7 535.7 C929.0 527.2 929.1 537.6 931.1 543.5 C933.1 549.3 935.0 563.7 937.7 570.9 C940.4 578.1 944.2 584.9 947.2 586.5 C950.2 588.1 952.9 579.8 955.6 580.5 C958.3 581.2 960.4 594.1 963.4 590.5 C966.4 586.9 970.6 569.3 973.5 559.0 C976.4 548.7 978.7 535.0 980.7 528.5 C982.7 522.1 983.8 520.3 985.5 520.5 C987.2 520.7 989.1 522.8 991.2 529.9 C993.2 536.9 995.2 554.3 998.1 563.0 C1000.9 571.6 1005.0 580.4 1008.1 581.9 C1011.2 583.4 1014.1 571.3 1016.9 572.0 C1019.7 572.7 1021.9 589.4 1025.1 585.9 C1028.2 582.4 1032.7 562.4 1035.7 551.0 C1038.8 539.6 1041.2 524.4 1043.3 517.3 C1045.4 510.1 1046.5 508.0 1048.3 508.3 C1050.1 508.6 1051.9 511.0 1054.0 519.2 C1056.0 527.5 1058.0 547.7 1060.9 557.8 C1063.7 567.9 1067.8 577.5 1070.9 580.1 C1074.0 582.6 1076.9 572.4 1079.7 573.1 C1082.5 573.7 1084.7 587.3 1087.9 584.1 C1091.0 580.9 1095.5 563.7 1098.5 553.8 C1101.6 543.9 1104.0 530.7 1106.1 524.5 C1108.2 518.3 1109.3 516.2 1111.1 516.8 C1112.9 517.4 1114.7 519.6 1116.8 528.3 C1119.0 537.0 1121.0 558.3 1123.9 569.0 C1126.7 579.7 1130.9 589.3 1134.1 592.6 C1137.3 595.9 1140.1 588.3 1143.0 588.9 C1145.9 589.6 1148.1 601.8 1151.3 596.6 C1154.5 591.4 1159.1 570.5 1162.1 557.8 C1165.2 545.1 1167.7 528.3 1169.8 520.4 C1171.9 512.5 1172.4 506.3 1174.9 510.4 C1177.4 514.5 1182.2 535.4 1185.0 545.0 C1187.8 554.6 1189.8 562.8 1192.0 568.0 C1194.2 573.2 1197.0 574.7 1198.0 576.0" fill="none" stroke="#356b8f" stroke-width="3.0" stroke-linecap="round" stroke-linejoin="round"/>
<path d="M102.0 732.0 C110.0 732.3 137.8 732.7 150.0 734.0 C162.2 735.3 168.3 739.5 175.0 740.0 C181.7 740.5 186.6 738.2 190.0 737.0 C193.4 735.8 190.2 733.7 195.2 733.0 C200.2 732.3 209.9 732.1 220.0 733.0 C230.1 733.9 244.9 736.1 255.6 738.1 C266.3 740.1 274.9 742.7 284.0 744.7 C293.1 746.8 304.2 751.2 310.5 750.4 C316.8 749.6 317.7 744.3 321.8 740.0 C325.9 735.7 330.4 728.6 335.1 724.8 C339.8 721.0 345.8 719.8 350.2 717.3 C354.6 714.8 357.5 714.4 361.6 709.7 C365.7 705.0 371.0 695.8 374.8 688.9 C378.6 682.0 381.2 676.0 384.3 668.1 C387.4 660.2 391.5 646.8 393.7 641.6 C395.9 636.4 395.8 637.2 397.5 636.9 C399.2 636.6 401.8 638.6 404.0 640.0 C406.2 641.4 408.7 643.9 411.0 645.0 C413.3 646.1 415.7 646.9 418.0 646.5 C420.3 646.1 422.5 644.2 425.0 642.5 C427.5 640.8 425.0 637.9 433.0 636.5 C441.0 635.1 459.7 634.7 473.0 634.3 C486.3 633.9 499.7 633.9 513.0 633.9 C526.3 633.9 539.7 634.4 553.0 634.3 C566.3 634.2 579.7 633.2 593.0 633.3 C606.3 633.4 619.7 634.6 633.0 634.9 C646.3 635.2 659.7 635.0 673.0 634.9 C686.3 634.9 699.7 634.8 713.0 634.5 C726.3 634.2 739.7 633.3 753.0 633.2 C766.3 633.2 779.7 634.1 793.0 634.2 C806.3 634.2 819.7 633.8 833.0 633.7 C846.3 633.5 864.5 632.6 873.0 633.4 C881.5 634.3 880.5 639.8 884.2 638.9 C887.9 638.0 891.9 631.1 895.0 628.0 C898.1 624.9 899.9 620.1 903.0 620.1 C906.1 620.1 909.9 631.3 913.7 628.2 C917.5 625.1 922.6 603.6 925.7 601.4 C928.8 599.2 930.0 617.5 932.4 614.8 C934.8 612.1 937.3 595.5 940.0 585.0 C942.7 574.5 946.8 556.5 948.5 552.0 C950.2 547.5 949.7 553.4 950.4 557.9 C951.2 562.4 951.8 573.3 952.8 578.7 C953.8 584.2 955.2 589.6 956.2 590.3 C957.3 591.0 958.3 582.2 959.2 582.9 C960.2 583.5 961.0 598.5 962.0 594.3 C963.1 590.1 964.7 569.7 965.7 557.7 C966.7 545.7 967.6 529.8 968.3 522.3 C969.0 514.8 968.7 512.3 970.0 512.9 C971.3 513.5 973.7 516.0 975.9 525.7 C978.0 535.3 980.1 558.8 983.0 570.7 C985.9 582.6 990.2 593.7 993.4 596.9 C996.7 600.2 999.6 589.5 1002.5 590.2 C1005.5 590.9 1007.8 606.2 1011.0 600.9 C1014.3 595.7 1018.9 572.6 1022.1 558.8 C1025.2 544.9 1027.7 526.7 1029.9 518.1 C1032.1 509.5 1033.3 506.9 1035.1 507.2 C1036.9 507.5 1038.7 510.3 1040.8 519.9 C1042.9 529.6 1044.8 553.1 1047.7 564.9 C1050.5 576.8 1054.6 588.0 1057.7 591.1 C1060.9 594.2 1063.7 582.7 1066.5 583.4 C1069.4 584.1 1071.6 599.5 1074.7 595.1 C1077.9 590.7 1082.4 569.4 1085.4 556.8 C1088.5 544.3 1090.9 527.7 1093.0 519.9 C1095.1 512.1 1096.0 505.8 1098.0 510.0 C1100.0 514.2 1102.7 534.2 1105.0 545.0 C1107.3 555.8 1109.5 567.5 1112.0 575.0 C1114.5 582.5 1117.3 587.2 1120.0 590.0 C1122.7 592.8 1126.7 591.7 1128.0 592.0" fill="none" stroke="#356b8f" stroke-width="3.0" stroke-linecap="round" stroke-linejoin="round"/>
<path d="M102.0 733.5 C110.0 733.6 137.8 733.1 150.0 734.0 C162.2 734.9 168.7 738.3 175.0 739.0 C181.3 739.7 183.9 740.4 188.0 738.0 C192.1 735.6 194.0 727.5 199.3 724.8 C204.6 722.0 210.6 722.0 220.0 721.5 C229.4 721.0 246.5 722.9 255.6 722.0 C264.7 721.1 267.7 716.9 274.6 716.3 C281.6 715.7 289.4 718.5 297.3 718.2 C305.2 717.9 313.0 715.2 321.8 714.4 C330.6 713.5 342.3 713.1 350.2 713.1 C358.1 713.1 362.8 714.6 369.1 714.4 C375.4 714.1 379.5 712.7 388.0 711.6 C396.5 710.5 408.7 709.8 420.0 707.8 C431.3 705.8 446.6 703.6 455.7 699.7 C464.8 695.8 468.3 694.7 474.6 684.6 C480.9 674.5 489.3 647.3 493.5 639.2 C497.7 631.1 492.2 636.4 500.0 636.0 C507.8 635.6 526.7 636.8 540.0 637.0 C553.3 637.3 566.7 637.4 580.0 637.5 C593.3 637.6 606.7 637.8 620.0 637.5 C633.3 637.3 646.7 636.5 660.0 636.2 C673.3 635.9 686.7 635.7 700.0 635.8 C713.3 635.9 726.7 636.7 740.0 636.8 C753.3 636.9 766.7 636.3 780.0 636.5 C793.3 636.7 806.7 637.7 820.0 637.9 C833.3 638.1 846.7 637.7 860.0 637.6 C873.3 637.5 886.7 637.4 900.0 637.4 C913.3 637.3 926.7 637.2 940.0 637.3 C953.3 637.3 966.7 637.7 980.0 637.5 C993.3 637.3 1006.7 636.3 1020.0 636.2 C1033.3 636.1 1046.7 636.9 1060.0 636.9 C1073.3 637.0 1085.8 636.9 1100.0 636.2 C1114.2 635.5 1136.5 635.0 1145.1 632.8 C1153.7 630.6 1149.5 627.0 1151.5 623.2 C1153.5 619.4 1155.0 613.2 1157.0 610.0 C1159.0 606.8 1161.4 603.7 1163.2 604.0 C1165.0 604.3 1166.4 608.1 1168.0 612.0 C1169.6 615.9 1171.5 621.6 1172.8 627.4 C1174.1 633.2 1174.6 647.3 1176.0 646.6 C1177.4 645.9 1179.2 633.5 1181.3 623.2 C1183.4 612.9 1186.2 589.9 1188.7 584.9 C1191.2 579.9 1193.9 596.9 1196.2 593.4 C1198.5 589.9 1200.6 571.8 1202.6 563.6 C1204.5 555.5 1205.8 545.2 1207.9 544.5 C1210.0 543.8 1213.0 552.7 1215.3 559.4 C1217.6 566.1 1219.4 578.9 1221.7 584.9 C1224.0 590.9 1226.3 595.5 1229.1 595.5 C1231.9 595.5 1235.9 587.8 1238.5 585.0 C1241.1 582.2 1242.8 582.9 1244.9 578.6 C1247.0 574.3 1249.2 565.8 1251.3 559.4 C1253.4 553.0 1255.8 544.6 1257.7 540.2 C1259.7 535.8 1261.2 532.8 1263.0 532.8 C1264.8 532.8 1266.3 534.7 1268.3 540.2 C1270.2 545.7 1271.9 559.6 1274.7 565.8 C1277.5 572.0 1282.3 576.6 1285.3 577.5 C1288.3 578.4 1290.3 570.4 1292.8 571.1 C1295.3 571.8 1297.2 585.4 1300.2 581.7 C1303.2 578.0 1307.4 561.2 1310.9 548.8 C1314.5 536.4 1318.7 511.2 1321.5 507.3 C1324.3 503.4 1325.8 515.5 1327.9 525.3 C1330.0 535.0 1332.2 555.5 1334.3 565.8 C1336.4 576.1 1338.2 585.9 1340.7 587.1 C1343.2 588.3 1346.7 575.0 1349.2 573.2 C1351.7 571.4 1352.8 581.9 1355.6 576.4 C1358.4 570.9 1362.3 554.2 1366.2 540.2 C1370.1 526.2 1375.6 497.0 1379.0 492.4 C1382.4 487.8 1384.4 503.2 1386.5 512.6 C1388.6 522.0 1389.8 538.5 1391.8 548.8 C1393.8 559.1 1395.4 573.1 1398.2 574.3 C1401.0 575.5 1405.8 557.8 1408.8 556.2 C1411.8 554.6 1413.8 566.3 1416.3 564.7 C1418.8 563.1 1420.2 559.7 1423.7 546.6 C1427.2 533.5 1434.3 493.8 1437.5 486.0 C1440.7 478.2 1440.6 489.3 1442.9 499.8 C1445.2 510.3 1448.9 536.6 1451.4 548.8 C1453.9 561.0 1455.3 570.9 1457.8 573.2 C1460.3 575.5 1464.9 564.4 1466.3 562.6" fill="none" stroke="#356b8f" stroke-width="3.0" stroke-linecap="round" stroke-linejoin="round"/>
<path d="M102.0 727.0 C108.3 727.5 129.3 728.9 140.0 730.0 C150.7 731.1 159.3 733.7 166.0 733.5 C172.7 733.3 176.3 731.4 180.0 729.0 C183.7 726.6 182.6 727.7 188.0 719.0 C193.4 710.3 203.9 690.5 212.2 677.0 C220.4 663.5 229.0 650.8 237.5 638.0 C246.0 625.2 256.6 609.8 263.2 600.0 C269.8 590.2 272.4 586.0 276.8 579.2 C281.2 572.4 285.0 566.0 289.5 559.4 C294.0 552.8 299.4 544.9 303.7 539.5 C307.9 534.1 310.7 530.4 315.0 526.8 C319.3 523.1 324.6 519.5 329.3 517.6 C334.0 515.7 337.5 515.6 343.4 515.4 C349.3 515.2 357.6 516.3 364.7 516.2 C371.8 516.1 376.8 515.4 386.0 514.7 C395.2 514.0 410.4 512.4 420.0 511.9 C429.6 511.4 429.2 511.8 443.8 511.5 C458.4 511.2 490.0 510.4 507.7 510.4 C525.4 510.4 534.6 511.2 550.0 511.5 C565.4 511.8 583.3 513.1 600.0 512.0 C616.7 510.9 633.3 507.2 650.0 505.0 C666.7 502.8 686.0 501.3 700.0 499.0 C714.0 496.7 723.9 492.2 734.0 491.4 C744.1 490.6 753.1 492.4 760.9 494.1 C768.7 495.8 777.6 500.4 781.0 501.6" fill="none" stroke="#ec9256" stroke-width="3.0" stroke-linecap="round" stroke-linejoin="round"/>
<path d="M102.0 722.0 C108.3 722.7 129.3 724.2 140.0 726.0 C150.7 727.8 159.3 732.5 166.0 733.0 C172.7 733.5 176.3 731.3 180.0 729.0 C183.7 726.7 183.3 727.7 188.0 719.0 C192.7 710.3 202.1 690.2 208.4 677.0 C214.7 663.8 219.9 652.8 226.0 640.0 C232.1 627.2 239.6 611.3 245.0 600.0 C250.4 588.7 253.8 579.7 258.4 572.2 C263.0 564.7 267.8 559.6 272.5 555.1 C277.2 550.6 282.4 548.0 286.7 545.2 C290.9 542.4 294.4 539.1 298.0 538.1 C301.6 537.1 302.8 538.1 308.0 539.5 C313.2 540.9 323.4 545.4 329.3 546.6 C335.2 547.8 337.5 547.3 343.4 546.6 C349.3 545.9 357.6 544.5 364.7 542.4 C371.8 540.3 378.9 536.5 386.0 533.9 C393.1 531.3 401.5 528.4 407.2 526.8 C412.9 525.1 413.9 525.3 420.0 524.0 C426.1 522.7 432.7 521.0 443.8 518.9 C454.9 516.8 470.4 512.7 486.4 511.5 C502.4 510.3 525.8 511.5 540.0 511.5 C554.2 511.5 562.7 512.0 571.5 511.5 C580.3 511.0 581.4 507.9 592.8 508.3 C604.2 508.7 622.1 512.3 640.0 513.6 C657.9 514.9 680.0 515.3 700.0 516.0 C720.0 516.7 740.0 518.2 760.0 518.0 C780.0 517.8 801.7 516.0 820.0 515.0 C838.3 514.0 852.6 514.2 870.0 512.0 C887.4 509.8 915.2 503.6 924.3 501.9" fill="none" stroke="#ec9256" stroke-width="3.0" stroke-linecap="round" stroke-linejoin="round"/>
<path d="M102.0 731.0 C108.3 731.2 129.3 731.5 140.0 732.0 C150.7 732.5 159.3 734.5 166.0 734.0 C172.7 733.5 176.3 731.3 180.0 729.0 C183.7 726.7 182.0 728.7 188.0 720.0 C194.0 711.3 206.2 690.7 215.9 677.0 C225.6 663.3 235.7 650.8 246.0 638.0 C256.4 625.2 270.0 609.3 278.0 600.0 C286.0 590.7 288.8 587.0 293.8 582.1 C298.8 577.2 303.3 574.2 308.0 570.7 C312.7 567.2 316.3 563.1 322.2 560.8 C328.1 558.4 335.1 558.0 343.4 556.6 C351.7 555.2 362.4 554.2 371.8 552.3 C381.2 550.4 392.1 547.1 400.1 545.2 C408.1 543.3 410.9 543.2 420.0 541.0 C429.1 538.8 439.9 534.1 454.5 531.7 C469.1 529.3 488.2 527.6 507.7 526.4 C527.2 525.2 549.5 525.4 571.5 524.3 C593.5 523.2 618.6 521.0 640.0 520.0 C661.4 519.0 680.0 518.7 700.0 518.0 C720.0 517.3 738.3 516.7 760.0 516.0 C781.7 515.3 806.7 515.0 830.0 514.0 C853.3 513.0 878.3 511.5 900.0 510.0 C921.7 508.5 943.3 505.7 960.0 505.0 C976.7 504.3 986.7 506.8 1000.0 506.0 C1013.3 505.2 1028.3 501.8 1040.0 500.0 C1051.7 498.2 1061.7 495.5 1070.0 495.0 C1078.3 494.5 1083.3 496.8 1090.0 497.0 C1096.7 497.2 1102.2 497.0 1110.0 496.0 C1117.8 495.0 1132.5 491.9 1137.0 491.1" fill="none" stroke="#ec9256" stroke-width="3.0" stroke-linecap="round" stroke-linejoin="round"/>
<path d="M102.0 725.0 C108.3 725.5 129.3 726.7 140.0 728.0 C150.7 729.3 159.3 733.0 166.0 733.0 C172.7 733.0 176.3 730.2 180.0 728.0 C183.7 725.8 184.8 728.5 188.0 720.0 C191.2 711.5 195.2 693.3 198.9 677.0 C202.6 660.7 207.3 636.9 210.3 622.4 C213.3 607.9 214.7 600.4 217.0 590.0 C219.3 579.6 222.2 568.4 224.4 560.0 C226.6 551.6 227.9 546.5 230.0 539.5 C232.1 532.5 234.6 523.9 237.0 518.0 C239.4 512.1 241.2 507.6 244.2 504.1 C247.2 500.6 251.3 497.5 254.8 497.0 C258.3 496.5 261.3 498.5 265.4 501.3 C269.5 504.1 274.9 510.7 279.6 514.0 C284.3 517.3 289.1 520.1 293.8 521.1 C298.5 522.1 303.3 520.4 308.0 519.7 C312.7 519.0 317.5 517.6 322.2 516.9 C326.9 516.2 330.4 515.4 336.3 515.4 C342.2 515.4 350.5 515.6 357.6 516.6 C364.7 517.6 371.8 520.1 378.9 521.1 C386.0 522.1 392.8 522.5 400.1 522.5 C407.4 522.5 411.8 521.9 422.6 521.1 C433.4 520.3 450.9 518.3 465.1 517.9 C479.3 517.5 495.3 519.3 507.7 518.9 C520.1 518.5 529.0 518.2 539.6 515.7 C550.2 513.2 562.6 507.2 571.5 504.0 C580.4 500.8 585.7 498.6 592.8 496.6 C599.9 494.7 606.1 491.4 614.0 492.3 C621.9 493.2 631.2 497.8 640.0 501.9 C648.8 506.0 657.0 513.9 667.0 516.9 C677.0 519.9 686.2 520.1 700.0 520.0 C713.8 519.9 733.3 517.3 750.0 516.0 C766.7 514.7 783.3 513.3 800.0 512.0 C816.7 510.7 833.3 508.3 850.0 508.0 C866.7 507.7 881.7 509.2 900.0 510.0 C918.3 510.8 943.3 512.0 960.0 513.0 C976.7 514.0 986.7 515.0 1000.0 516.0 C1013.3 517.0 1028.3 518.0 1040.0 519.0 C1051.7 520.0 1060.0 521.3 1070.0 522.0 C1080.0 522.7 1091.7 523.5 1100.0 523.0 C1108.3 522.5 1113.8 522.3 1120.0 519.0 C1126.2 515.7 1131.8 506.8 1137.0 503.0 C1142.2 499.2 1145.5 497.0 1151.0 496.0 C1156.5 495.0 1163.5 496.3 1170.0 497.0 C1176.5 497.7 1184.1 500.0 1190.0 500.0 C1195.9 500.0 1202.8 497.5 1205.3 497.0" fill="none" stroke="#ec9256" stroke-width="3.0" stroke-linecap="round" stroke-linejoin="round"/>
<path d="M102.0 729.0 C108.3 729.3 129.3 730.2 140.0 731.0 C150.7 731.8 159.3 734.3 166.0 734.0 C172.7 733.7 176.3 731.5 180.0 729.0 C183.7 726.5 183.9 727.7 188.0 719.0 C192.1 710.3 199.3 690.5 204.6 677.0 C209.9 663.5 214.9 650.8 220.0 638.0 C225.1 625.2 230.0 611.0 235.0 600.0 C240.0 589.0 245.3 579.3 250.0 572.0 C254.7 564.7 258.5 559.8 263.0 556.0 C267.5 552.2 271.7 549.9 276.8 549.5 C281.9 549.1 287.4 551.8 293.8 553.7 C300.2 555.6 309.1 559.1 315.0 560.8 C320.9 562.5 322.2 563.5 329.3 563.7 C336.4 563.9 348.2 562.9 357.6 562.2 C367.1 561.5 375.6 560.3 386.0 559.4 C396.4 558.5 410.4 558.2 420.0 556.6 C429.6 555.0 429.2 551.6 443.8 549.8 C458.4 547.9 486.4 546.6 507.7 545.5 C529.0 544.4 549.5 545.4 571.5 543.4 C593.5 541.4 618.6 536.4 640.0 533.8 C661.4 531.2 680.0 529.6 700.0 528.0 C720.0 526.4 740.0 525.3 760.0 524.0 C780.0 522.7 800.0 521.3 820.0 520.0 C840.0 518.7 860.0 518.0 880.0 516.0 C900.0 514.0 920.0 509.5 940.0 508.0 C960.0 506.5 985.0 507.5 1000.0 507.0 C1015.0 506.5 1021.7 506.5 1030.0 505.0 C1038.3 503.5 1043.3 499.7 1050.0 498.0 C1056.7 496.3 1063.3 495.0 1070.0 495.0 C1076.7 495.0 1083.3 496.8 1090.0 498.0 C1096.7 499.2 1103.3 500.8 1110.0 502.0 C1116.7 503.2 1123.3 504.3 1130.0 505.0 C1136.7 505.7 1143.3 506.0 1150.0 506.0 C1156.7 506.0 1163.3 505.7 1170.0 505.0 C1176.7 504.3 1184.2 502.8 1190.0 502.0 C1195.8 501.2 1201.3 500.2 1205.0 500.0 C1208.7 499.8 1211.2 500.8 1212.4 501.0" fill="none" stroke="#ec9256" stroke-width="3.0" stroke-linecap="round" stroke-linejoin="round"/>
<path d="M102.0 708.6 C108.3 709.0 129.3 710.3 140.0 711.0 C150.7 711.7 159.3 713.2 166.0 712.8 C172.7 712.4 175.3 710.3 180.0 708.5 C184.7 706.7 189.6 704.7 194.3 702.0 C199.0 699.3 201.3 696.5 208.4 692.4 C215.5 688.3 227.2 682.3 236.7 677.3 C246.1 672.2 255.6 668.4 265.1 662.1 C274.6 655.8 285.0 646.3 293.5 639.4 C302.0 632.5 308.4 627.1 316.2 620.5 C323.9 613.9 333.1 605.6 340.0 599.7 C346.9 593.8 351.1 589.5 357.6 584.9 C364.1 580.3 373.0 575.6 378.9 572.2 C384.8 568.8 388.3 565.8 393.0 564.4 C397.7 563.0 402.7 563.7 407.2 563.7 C411.7 563.7 413.9 564.2 420.0 564.4 C426.1 564.6 432.7 565.9 443.8 564.7 C454.9 563.5 472.2 559.7 486.4 557.2 C500.6 554.7 511.2 551.9 528.9 549.8 C546.6 547.7 574.3 545.9 592.8 544.5 C611.3 543.1 625.5 542.0 640.0 541.3 C654.5 540.5 666.7 540.5 680.0 540.0 C693.3 539.5 706.5 538.7 720.0 538.0 C733.5 537.3 745.1 537.0 760.9 535.7 C776.6 534.4 801.1 531.0 814.5 530.3 C827.9 529.6 832.4 530.1 841.3 531.7 C850.2 533.4 862.3 538.4 868.1 540.2 C873.9 542.0 871.6 543.4 876.1 542.4 C880.6 541.4 890.0 536.5 894.9 534.3 C899.8 532.1 898.0 529.2 905.6 529.0 C913.2 528.8 932.0 533.2 940.5 533.0 C949.0 532.8 950.8 530.1 956.6 527.6 C962.4 525.1 968.1 520.9 975.3 518.3 C982.5 515.7 989.2 513.2 1000.0 512.0 C1010.8 510.8 1026.7 511.7 1040.0 511.0 C1053.3 510.3 1070.0 509.0 1080.0 508.0 C1090.0 507.0 1091.7 504.7 1100.0 505.0 C1108.3 505.3 1120.0 507.3 1130.0 510.0 C1140.0 512.7 1150.0 518.8 1160.0 521.0 C1170.0 523.2 1180.0 523.2 1190.0 523.0 C1200.0 522.8 1211.7 520.9 1220.0 520.0 C1228.3 519.1 1233.0 518.0 1240.0 517.5 C1247.0 517.0 1252.9 517.3 1261.9 516.8 C1270.9 516.3 1284.0 515.9 1293.9 514.7 C1303.8 513.5 1313.7 509.8 1321.5 509.4 C1329.3 509.0 1334.0 510.8 1340.7 512.6 C1347.5 514.4 1354.9 519.6 1362.0 520.0 C1369.1 520.4 1375.1 517.4 1383.3 514.7 C1391.5 512.1 1403.1 506.9 1410.9 504.1 C1418.7 501.3 1424.8 498.6 1430.1 497.7 C1435.4 496.8 1436.9 497.5 1442.9 498.7 C1448.9 499.9 1462.4 504.0 1466.3 505.1" fill="none" stroke="#ec9256" stroke-width="3.0" stroke-linecap="round" stroke-linejoin="round"/>
<path d="M119.0 714.0 C121.6 714.8 130.0 717.1 134.8 719.0 C139.6 720.9 142.8 723.3 148.0 725.6 C153.2 727.9 160.7 732.4 166.0 733.0 C171.3 733.6 176.2 731.7 180.0 729.5 C183.8 727.3 183.0 728.5 188.5 720.0 C194.0 711.5 204.7 691.8 213.0 678.5 C221.3 665.2 230.0 652.7 238.5 640.0 C247.0 627.3 257.5 612.2 264.0 602.5 C270.5 592.8 273.2 588.2 277.5 581.5 C281.8 574.8 285.6 568.6 290.0 562.0 C294.4 555.4 299.8 547.4 304.0 542.0 C308.2 536.6 311.2 533.1 315.5 529.5 C319.8 525.9 324.9 522.4 329.5 520.5 C334.1 518.6 337.5 518.2 343.4 518.0 C349.3 517.8 355.6 518.5 365.0 519.0 C374.4 519.5 390.9 520.6 400.1 521.0 C409.3 521.4 408.4 521.7 420.0 521.5 C431.6 521.3 453.3 520.4 470.0 520.0 C486.7 519.6 501.7 519.3 520.0 519.0 C538.3 518.7 560.0 518.5 580.0 518.0 C600.0 517.5 620.0 516.2 640.0 516.0 C660.0 515.8 680.0 516.5 700.0 517.0 C720.0 517.5 740.0 518.8 760.0 519.0 C780.0 519.2 800.0 518.5 820.0 518.0 C840.0 517.5 860.0 516.7 880.0 516.0 C900.0 515.3 920.0 514.7 940.0 514.0 C960.0 513.3 990.0 512.3 1000.0 512.0" fill="none" stroke="#ec9256" stroke-width="3.0" stroke-linecap="round" stroke-linejoin="round"/>
</g>
<path d="M101.8 457.0 V757.2 H1468.5" fill="none" stroke="#000" stroke-width="2.6" stroke-linecap="square"/>
<path d="M101.8 532.2 H114.6" stroke="#000" stroke-width="2.6"/>
<text x="87.6" y="540.4" text-anchor="end">90</text>
<path d="M101.8 644.7 H114.6" stroke="#000" stroke-width="2.6"/>
<text x="87.6" y="652.9" text-anchor="end">45</text>
<text x="87.6" y="765.4" text-anchor="end">0</text>
<path d="M167.1 757.2 V744.4" stroke="#000" stroke-width="2.6"/>
<text x="167.1" y="794.3" text-anchor="middle">0.0</text>
<path d="M384.0 757.2 V744.4" stroke="#000" stroke-width="2.6"/>
<text x="384.0" y="794.3" text-anchor="middle">0.1</text>
<path d="M600.9 757.2 V744.4" stroke="#000" stroke-width="2.6"/>
<text x="600.9" y="794.3" text-anchor="middle">0.2</text>
<path d="M817.8 757.2 V744.4" stroke="#000" stroke-width="2.6"/>
<text x="817.8" y="794.3" text-anchor="middle">0.3</text>
<path d="M1034.7 757.2 V744.4" stroke="#000" stroke-width="2.6"/>
<text x="1034.7" y="794.3" text-anchor="middle">0.4</text>
<path d="M1251.6 757.2 V744.4" stroke="#000" stroke-width="2.6"/>
<text x="1251.6" y="794.3" text-anchor="middle">0.5</text>
<path d="M1468.5 757.2 V744.4" stroke="#000" stroke-width="2.6"/>
<text x="1468.5" y="794.3" text-anchor="middle">0.6</text>
<text x="785.5" y="838.8" text-anchor="middle" class="t">Time (s)</text>
<text x="-0.2" y="458.2" class="pl">d</text>
<text transform="translate(28.6 741.6) rotate(-90)" class="yl">Elevation angle, <tspan font-family="Liberation Serif" font-style="italic" font-size="31">δ</tspan><tspan dx="-2"> (°)</tspan></text>
<path d="M626.1 639.5 H640.3 V747.1 H626.1" fill="none" stroke="#000" stroke-width="2.6"/>
<text x="648.9" y="709.1" class="ph">Phase</text><text x="754.3" y="709.1" class="ph">I</text>
<path d="M1192.7 632.3 H1310.8" stroke="#000" stroke-width="2.5" stroke-dasharray="6.2 1.9"/>
<path d="M1252.6 632.2 V587" stroke="#000" stroke-width="3"/>
<path d="M1244.9 588.8 L1260.5 588.8 L1252.7 573.3 Z" fill="#000"/>
<text x="1264.6" y="620.2" class="ph">Phase</text><text x="1369" y="620.2" class="ph">II</text>
<g id="m1"><rect x="91.55" y="384.96" width="5.51" height="4.54" fill="#fff"/><rect x="100.16" y="384.96" width="5.22" height="4.54" fill="#fff"/><rect x="231.12" y="384.96" width="5.51" height="4.54" fill="#fff"/><rect x="239.73" y="384.96" width="5.22" height="4.54" fill="#fff"/><rect x="587.55" y="384.96" width="5.51" height="4.54" fill="#fff"/><rect x="596.16" y="384.96" width="5.22" height="4.54" fill="#fff"/><rect x="727.12" y="384.96" width="5.51" height="4.54" fill="#fff"/><rect x="735.73" y="384.96" width="5.22" height="4.54" fill="#fff"/><rect x="632.89" y="54.66" width="5.51" height="4.54" fill="#fff"/><rect x="641.50" y="54.66" width="5.22" height="4.54" fill="#fff"/><rect x="940.90" y="48.64" width="4.73" height="4.06" fill="#fff"/><rect x="948.29" y="48.64" width="4.48" height="4.06" fill="#fff"/><rect x="864.80" y="143.24" width="4.73" height="4.06" fill="#fff"/><rect x="872.20" y="143.24" width="4.48" height="4.06" fill="#fff"/><rect x="864.80" y="174.74" width="4.73" height="4.06" fill="#fff"/><rect x="872.20" y="174.74" width="4.48" height="4.06" fill="#fff"/><rect x="864.80" y="206.34" width="4.73" height="4.06" fill="#fff"/><rect x="872.20" y="206.34" width="4.48" height="4.06" fill="#fff"/><rect x="1047.68" y="56.07" width="5.51" height="4.54" fill="#fff"/><rect x="1056.30" y="56.07" width="5.22" height="4.54" fill="#fff"/><rect x="1085.98" y="384.96" width="5.51" height="4.54" fill="#fff"/><rect x="1094.59" y="384.96" width="5.22" height="4.54" fill="#fff"/><rect x="1440.39" y="336.27" width="5.51" height="4.54" fill="#fff"/><rect x="1449.00" y="336.27" width="5.22" height="4.54" fill="#fff"/><rect x="389.46" y="790.96" width="5.51" height="4.54" fill="#fff"/><rect x="398.07" y="790.96" width="5.22" height="4.54" fill="#fff"/></g>
</svg></body></html>
